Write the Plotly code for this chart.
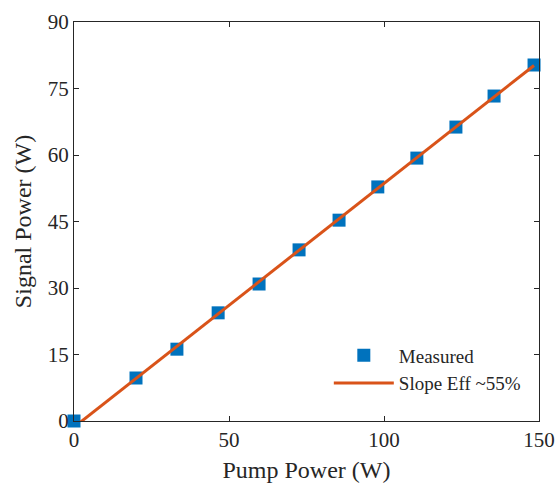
import plotly.graph_objects as go

pump = [0, 20.0, 33.2, 46.5, 59.7, 72.6, 85.5, 98.0, 110.6, 123.2, 135.5, 148.4]
signal = [0, 9.7, 16.2, 24.4, 30.9, 38.6, 45.3, 52.8, 59.3, 66.3, 73.3, 80.3]
fit_x = [0, 148.4]
fit_y = [-1.4, 80.2]

xticks = [0, 50, 100, 150]
yticks = [0, 15, 30, 45, 60, 75, 90]

BLUE = "#0072BD"
ORANGE = "#D95319"
FONT = "Liberation Serif"
INK = "#262626"

fig = go.Figure()
fig.add_trace(go.Scatter(x=pump, y=signal, mode="markers", name="Measured",
                         marker=dict(symbol="square", size=13, color=BLUE),
                         cliponaxis=False))
fig.add_trace(go.Scatter(x=fit_x, y=fit_y, mode="lines", name="Slope Eff ~55%",
                         line=dict(color=ORANGE, width=3)))

axis_common = dict(showgrid=False, zeroline=False, showline=True, linecolor=INK,
                   linewidth=1, mirror="ticks", ticks="inside", ticklen=5,
                   tickcolor=INK, automargin=False,
                   tickfont=dict(family=FONT, size=21, color=INK))
fig.update_xaxes(range=[0, 150], tickvals=xticks, **axis_common,
                 title=dict(text="Pump Power (W)", font=dict(family=FONT, size=24, color=INK), standoff=9))
fig.update_yaxes(range=[0, 90], tickvals=yticks, **axis_common,
                 title=dict(text="Signal Power (W)", font=dict(family=FONT, size=24, color=INK), standoff=9))

fig.update_layout(width=556, height=483, margin=dict(l=74, r=17, t=22, b=62),
                  plot_bgcolor="white", paper_bgcolor="white",
                  font=dict(family=FONT, color=INK),
                  legend=dict(x=0.548, y=0.212, xanchor="left", yanchor="top",
                              bgcolor="rgba(255,255,255,0)", font=dict(family=FONT, size=19, color=INK),
                              tracegroupgap=0, itemwidth=60))
fig.write_html("out.html")
